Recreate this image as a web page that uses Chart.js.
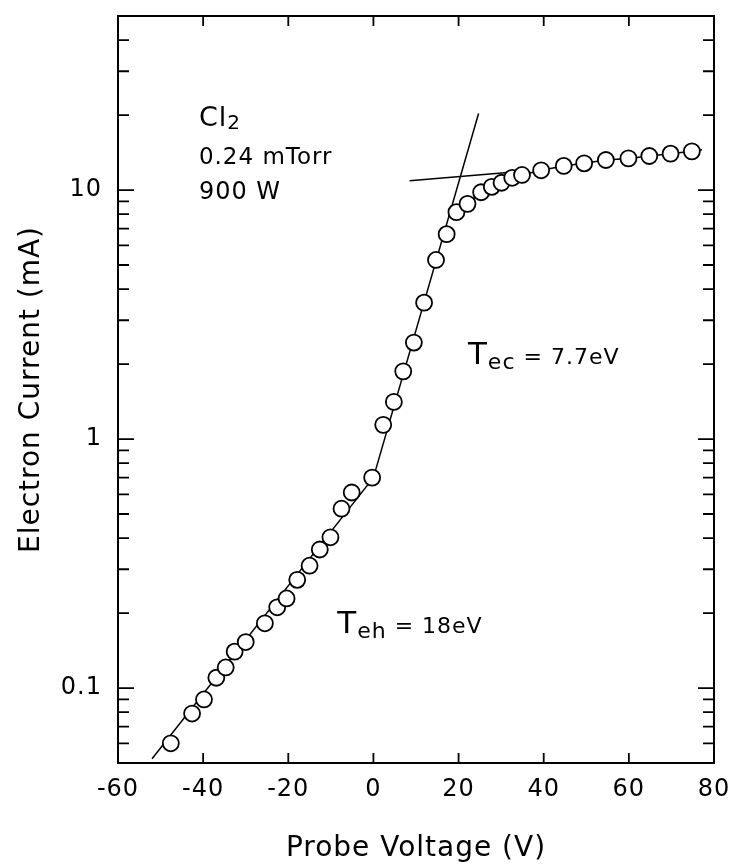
<!DOCTYPE html>
<html><head><meta charset="utf-8">
<script src="https://cdn.jsdelivr.net/npm/chart.js@4/dist/chart.umd.min.js"></script>
<style>html,body{margin:0;padding:0;background:#fff;}#wrap{width:738px;height:868px;}</style>
</head><body><div id="wrap"><canvas id="c" width="738" height="868"></canvas></div>
<script>
// ---- data ----
const voltage = [-47.6,-42.6,-39.8,-36.9,-34.7,-32.6,-30.0,-25.5,-22.6,-20.4,-17.9,-15.0,-12.6,-10.1,-7.5,-5.1,-0.3,2.3,4.8,7.0,9.5,11.9,14.7,17.2,19.5,22.1,25.3,27.8,30.1,32.6,34.9,39.4,44.7,49.5,54.6,59.9,64.8,69.8,74.8];
const current = [0.060,0.079,0.090,0.110,0.121,0.140,0.153,0.182,0.211,0.229,0.272,0.310,0.360,0.403,0.525,0.610,0.70,1.14,1.41,1.87,2.44,3.53,5.24,6.65,8.15,8.8,9.8,10.3,10.7,11.2,11.5,12.0,12.5,12.8,13.2,13.4,13.7,14.0,14.3];
const tehLineV = [-52, 0];
const tehLineI = [0.052, 0.70];
const tecLineV = [0, 24.7];
const tecLineI = [0.70, 20.3];
const tangentV = [8.5, 35];
const tangentI = [10.9, 11.9];
const satStartV = 19;
const satEndV = [77.2];
const satEndI = [14.5];
const xTicks = [-60,-40,-20,0,20,40,60,80];
const yTicks = [0.1, 1, 10];
const yTickLabels = ['0.1', '1', '10'];
const xTitle = 'Probe Voltage (V)';
const yTitle = 'Electron Current (mA)';
// annotations: [x, y, [[text, fontSize, baselineShift], ...]]
const notes = [
  [-41, 18.1, [['Cl', 27, 0], ['2', 20, 3]]],
  [-41, 12.7, [['0.24 mTorr', 23, 0]]],
  [-41, 9.2, [['900 W', 24, 0]]],
  [22.2, 2.0, [['T', 31, 0], ['ec', 22, 5], [' = 7.7eV', 22, 0]]],
  [-8.5, 0.167, [['T', 31, 0], ['eh', 22, 5], [' = 18eV', 22, 0]]]
];

const FONT = "'DejaVu Sans', sans-serif";
Chart.defaults.font.family = FONT;
Chart.defaults.color = '#000';

const pts = voltage.map((v, i) => ({x: v, y: current[i]}));
const pairs = (a, b) => a.map((v, i) => ({x: v, y: b[i]}));
const satCurve = pts.filter(p => p.x >= satStartV).concat(pairs(satEndV, satEndI));

const spacing = {
  id: 'spacing',
  beforeDraw(chart) { chart.ctx.letterSpacing = '1px'; }
};

const frameTicks = {
  id: 'frameTicks',
  afterDraw(chart) {
    const {ctx, chartArea: a, scales: {x, y}} = chart;
    ctx.save();
    ctx.strokeStyle = '#000';
    ctx.lineWidth = 2;
    ctx.strokeRect(a.left, a.top, a.right - a.left, a.bottom - a.top);
    ctx.lineWidth = 1.8;
    ctx.beginPath();
    xTicks.slice(1, -1).forEach(v => {
      const px = x.getPixelForValue(v);
      ctx.moveTo(px, a.bottom); ctx.lineTo(px, a.bottom - 10);
      ctx.moveTo(px, a.top); ctx.lineTo(px, a.top + 10);
    });
    for (let d = -2; d <= 1; d++) {
      for (let m = 1; m <= 9; m++) {
        const v = m * Math.pow(10, d);
        if (v <= y.min * 1.0001 || v >= y.max * 0.9999) continue;
        const py = y.getPixelForValue(v);
        const len = m === 1 ? 16 : 11;
        ctx.moveTo(a.left, py); ctx.lineTo(a.left + len, py);
        ctx.moveTo(a.right, py); ctx.lineTo(a.right - len, py);
      }
    }
    ctx.stroke();
    ctx.fillStyle = '#000';
    ctx.textBaseline = 'alphabetic';
    ctx.textAlign = 'left';
    notes.forEach(([vx, vy, parts]) => {
      let px = x.getPixelForValue(vx);
      const py = y.getPixelForValue(vy);
      parts.forEach(([t, size, shift]) => {
        ctx.font = size + 'px ' + FONT;
        ctx.fillText(t, px, py + shift);
        px += ctx.measureText(t).width;
      });
    });
    ctx.restore();
  }
};

new Chart(document.getElementById('c'), {
  type: 'scatter',
  data: {
    datasets: [
      {data: pts, showLine: false, pointRadius: 8, pointHoverRadius: 8, pointBackgroundColor: '#fff', pointBorderColor: '#000', pointBorderWidth: 1.8, order: 0},
      {data: pairs(tehLineV, tehLineI), showLine: true, pointRadius: 0, borderColor: '#000', borderWidth: 1.5, order: 1},
      {data: pairs(tecLineV, tecLineI), showLine: true, pointRadius: 0, borderColor: '#000', borderWidth: 1.5, order: 1},
      {data: pairs(tangentV, tangentI), showLine: true, pointRadius: 0, borderColor: '#000', borderWidth: 1.5, order: 1},
      {data: satCurve, showLine: true, pointRadius: 0, borderColor: '#000', borderWidth: 1.5, order: 1}
    ]
  },
  options: {
    responsive: false, animation: false, devicePixelRatio: 1,
    layout: {padding: {top: 16, right: 24, left: 0, bottom: 0}},
    plugins: {legend: {display: false}, tooltip: {enabled: false}},
    scales: {
      x: {
        type: 'linear', min: -60, max: 80,
        afterBuildTicks: s => { s.ticks = xTicks.map(v => ({value: v})); },
        afterFit: s => { s.height = 105; s.paddingLeft = 0; s.paddingRight = 0; },
        grid: {display: false, drawTicks: false}, border: {display: false},
        ticks: {font: {size: 24}, color: '#000', padding: 12, maxRotation: 0, autoSkip: false, callback: v => String(v)},
        title: {display: true, text: xTitle, font: {size: 28}, color: '#000', padding: {top: 0, bottom: 2}}
      },
      y: {
        type: 'logarithmic', min: 0.05, max: 50,
        afterBuildTicks: s => { s.ticks = yTicks.map(v => ({value: v})); },
        afterFit: s => { s.width = 118; s.paddingTop = 0; s.paddingBottom = 0; },
        grid: {display: false, drawTicks: false}, border: {display: false},
        ticks: {font: {size: 24}, color: '#000', padding: 16, autoSkip: false, callback: v => yTickLabels[yTicks.indexOf(v)] ?? ''},
        title: {display: true, text: yTitle, font: {size: 28}, color: '#000', padding: {top: 15, bottom: 0}}
      }
    }
  },
  plugins: [spacing, frameTicks]
});
</script></body></html>
